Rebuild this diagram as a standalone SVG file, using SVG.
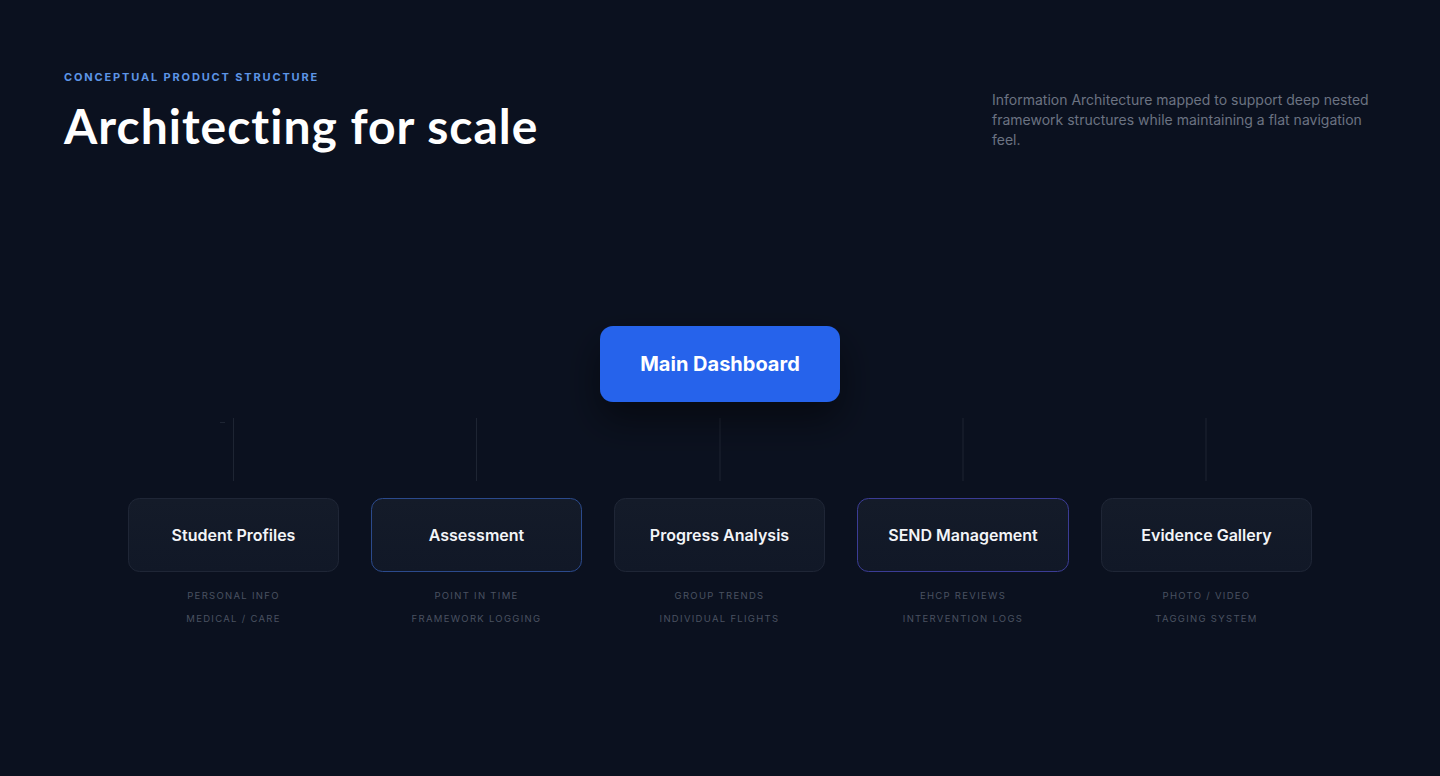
<svg xmlns="http://www.w3.org/2000/svg" width="1440" height="776" viewBox="0 0 1440 776">
<defs>
<filter id="shadow" x="-40%" y="-60%" width="180%" height="260%">
<feDropShadow dx="0" dy="18" stdDeviation="18" flood-color="#000000" flood-opacity="0.45"/>
</filter>
<linearGradient id="nodefill" x1="0" y1="0" x2="0" y2="1">
<stop offset="0" stop-color="#141b29"/>
<stop offset="1" stop-color="#111827"/>
</linearGradient>
</defs>
<style>
.eyebrow{font-family:Inter,"Liberation Sans",sans-serif;font-size:11px;font-weight:700;letter-spacing:1.85px;fill:#5d95e6}
.title{font-family:Lato,"Liberation Sans",sans-serif;font-size:48px;font-weight:700;letter-spacing:1px;fill:#ffffff;font-variant-ligatures:none}
.desc{font-family:Inter,"Liberation Sans",sans-serif;font-size:14px;fill:#6b7382}
.node rect{fill:url(#nodefill);stroke:#1f2636;stroke-width:1}
.node.blue rect{stroke:#2b4a8c}
.node.indigo rect{stroke:#3b3c95}
.label{font-family:Inter,"Liberation Sans",sans-serif;font-size:16px;font-weight:600;fill:#f3f5f8;text-anchor:middle}
.sub{font-family:Inter,"Liberation Sans",sans-serif;font-size:9.5px;letter-spacing:1.3px;fill:#4a5261;text-anchor:middle}
.conn line{stroke:#1e2533;stroke-width:1}
</style>
<rect x="0" y="0" width="1440" height="776" fill="#0b111f"/>
<text class="eyebrow" x="64" y="81">CONCEPTUAL PRODUCT STRUCTURE</text>
<text class="title" x="64" y="144">Architecting for scale</text>
<text class="desc" x="992" y="105">Information Architecture mapped to support deep nested</text>
<text class="desc" x="992" y="125">framework structures while maintaining a flat navigation</text>
<text class="desc" x="992" y="145">feel.</text>
<g id="connectors" class="conn">
<line x1="233.5" y1="418" x2="233.5" y2="481"/>
<line x1="476.5" y1="418" x2="476.5" y2="481"/>
<line x1="720" y1="418" x2="720" y2="481"/>
<line x1="963" y1="418" x2="963" y2="481"/>
<line x1="1206" y1="418" x2="1206" y2="481"/>
<line x1="220" y1="422.5" x2="225" y2="422.5" stroke="#3a4150"/>
</g>
<g id="main-dashboard">
<rect x="600" y="326" width="240" height="76" rx="13" fill="#2563eb" filter="url(#shadow)"/>
<text x="720" y="371" font-family="Inter,'Liberation Sans',sans-serif" font-size="20" font-weight="700" fill="#ffffff" text-anchor="middle">Main Dashboard</text>
</g>
<g id="student-profiles" class="node">
<rect x="128.5" y="498.5" width="210" height="73" rx="11"/>
<text class="label" x="233.5" y="541">Student Profiles</text>
<text class="sub" x="233.5" y="599">PERSONAL INFO</text>
<text class="sub" x="233.5" y="622">MEDICAL / CARE</text>
</g>
<g id="assessment" class="node blue">
<rect x="371.5" y="498.5" width="210" height="73" rx="11"/>
<text class="label" x="476.5" y="541">Assessment</text>
<text class="sub" x="476.5" y="599">POINT IN TIME</text>
<text class="sub" x="476.5" y="622">FRAMEWORK LOGGING</text>
</g>
<g id="progress-analysis" class="node">
<rect x="614.5" y="498.5" width="210" height="73" rx="11"/>
<text class="label" x="719.5" y="541">Progress Analysis</text>
<text class="sub" x="719.5" y="599">GROUP TRENDS</text>
<text class="sub" x="719.5" y="622">INDIVIDUAL FLIGHTS</text>
</g>
<g id="send-management" class="node indigo">
<rect x="857.5" y="498.5" width="211" height="73" rx="11"/>
<text class="label" x="963" y="541">SEND Management</text>
<text class="sub" x="963" y="599">EHCP REVIEWS</text>
<text class="sub" x="963" y="622">INTERVENTION LOGS</text>
</g>
<g id="evidence-gallery" class="node">
<rect x="1101.5" y="498.5" width="210" height="73" rx="11"/>
<text class="label" x="1206.5" y="541">Evidence Gallery</text>
<text class="sub" x="1206.5" y="599">PHOTO / VIDEO</text>
<text class="sub" x="1206.5" y="622">TAGGING SYSTEM</text>
</g>
</svg>
